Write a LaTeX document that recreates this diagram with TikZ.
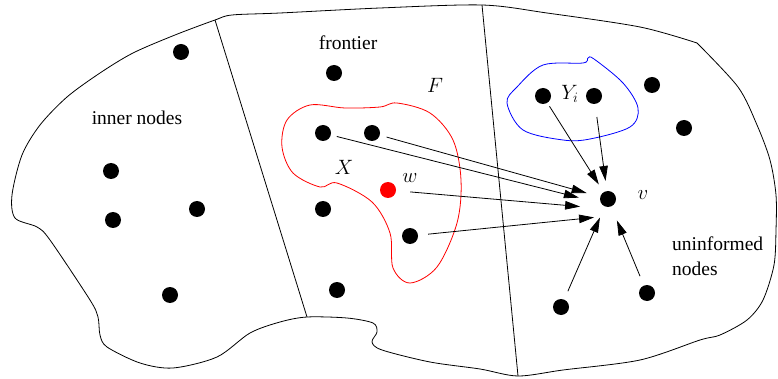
\documentclass[tikz,border=0pt]{standalone}
\usepackage{fontspec}
\setmainfont{Liberation Serif}
\usetikzlibrary{arrows.meta}
\begin{document}
\begin{tikzpicture}[x=1pt,y=-1pt,
  dot/.style={circle,fill=black,minimum size=16pt,inner sep=0pt},
  reddot/.style={circle,fill=red,minimum size=16pt,inner sep=0pt},
  arr/.style={line width=0.8pt,-{Triangle[length=15pt,width=8.5pt]}},
  outl/.style={line width=0.8pt},
  lbl/.style={font=\fontsize{19.5}{25}\selectfont,inner sep=0pt}]
\useasboundingbox (0,0) rectangle (778,379);
% outline (open smooth path starting and ending at the corner)
\draw[outl] plot[smooth,tension=0.5] coordinates {
 (697,43) (738,87) (757,125) (770,160) (776,195) (776,230) (774,265) (763,300)
 (747,320) (720,335) (700,340) (640,360) (563,370)
 (518,376) (480,369) (430,362) (382,350) (372,342) (377,332) (373,323) (347,318)
 (307,317) (280,322) (250,333) (217,357) (173,368) (140,363) (107,347) (100,335)
 (98,317) (90,300) (50,240) (37,227) (15,218) (12,195) (22,155) (40,125) (67,97)
 (100,73) (133,53) (175,35) (215,20) (232,15)
 (280,13) (380,8) (482,5) (547,13) (640,27) (697,43)};
\coordinate (d1t) at (215,20);
\coordinate (d1b) at (307,317);
\coordinate (d2t) at (482,5);
\coordinate (d2b) at (518,376);
\draw[outl] (d1t) -- (d1b);
\draw[outl] (d2t) -- (d2b);
% red set X
\draw[red,line width=0.8pt] plot[smooth cycle,tension=0.55] coordinates {
 (310,105) (345,108) (380,107) (397,103) (430,113) (453,140) (461,180) (457,223)
 (437,267) (410,283) (393,268) (390,233) (372,202) (337,183) (320,187) (293,173)
 (282,147) (287,120)};
% blue set Y_i
\draw[blue,line width=0.8pt] plot[smooth cycle,tension=0.55] coordinates {
 (543,65) (583,63) (588,58) (594,59) (623,83) (638,108) (630,127) (590,139)
 (563,140) (523,130) (507,103) (517,87)};
% nodes
\node[dot] (i1) at (181,52) {};
\node[dot] (i2) at (111,171) {};
\node[dot] (i3) at (113,220) {};
\node[dot] (i4) at (197,209) {};
\node[dot] (i5) at (170,295) {};
\node[dot] (f1) at (334,73) {};
\node[dot] (x1) at (323,133) {};
\node[dot] (x2) at (372,133) {};
\node[reddot] (w) at (388,190) {};
\node[dot] (f2) at (323,209) {};
\node[dot] (x3) at (410,236) {};
\node[dot] (f3) at (337,290) {};
\node[dot] (y1) at (543,96) {};
\node[dot] (y2) at (594,96) {};
\node[dot] (u1) at (652,85) {};
\node[dot] (u2) at (684,128) {};
\node[dot] (v) at (608,199) {};
\node[dot] (u3) at (561,307) {};
\node[dot] (u4) at (647,293) {};
\coordinate (vx1) at (608,205);
\coordinate (vw) at (608,209);
\coordinate (vx3) at (608,216);
% arrows
\draw[arr,shorten <=6pt,shorten >=30pt] (x1) -- (vx1);
\draw[arr,shorten <=7pt,shorten >=14pt] (x2) -- (v);
\draw[arr,shorten <=14pt,shorten >=28pt] (w) -- (vw);
\draw[arr,shorten <=10pt,shorten >=14pt] (x3) -- (vx3);
\draw[arr,shorten <=4pt,shorten >=9pt] (y1) -- (v);
\draw[arr,shorten <=13pt,shorten >=10pt] (y2) -- (v);
\draw[arr,shorten <=9pt,shorten >=12pt] (u3) -- (v);
\draw[arr,shorten <=10pt,shorten >=15pt] (u4) -- (v);
% labels
\node[lbl] (tfront) at (348,43) {frontier};
\node[lbl] (tinner) at (137,118) {inner nodes};
\node[lbl] (tX) at (344,167) {$X$};
\node[lbl] (tw) at (410,178) {$w$};
\node[lbl] (tF) at (435,85) {$F$};
\node[lbl] (tY) at (570,94) {$Y_i$};
\node[lbl] (tv) at (643,195) {$v$};
\node[lbl,anchor=west,align=left] (tun) at (672,256) {uninformed\\nodes};
\end{tikzpicture}
\end{document}
